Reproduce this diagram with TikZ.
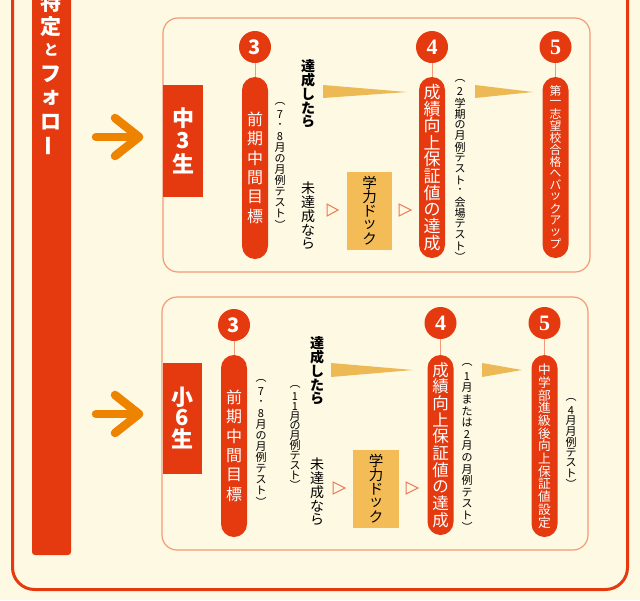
\documentclass[tikz,border=0pt]{standalone}
\usepackage{fontspec}
\usepackage{graphicx}
\newfontfamily\jp{Noto Sans CJK JP}
\newfontfamily\serifnum{Liberation Serif}
\definecolor{bg}{HTML}{FEF9E3}
\definecolor{myred}{HTML}{E5390F}
\definecolor{panelline}{HTML}{F39A78}
\definecolor{gold}{HTML}{EDB955}
\definecolor{boxfill}{HTML}{F4BC57}
\definecolor{arroworange}{HTML}{EE8300}
\definecolor{tri}{HTML}{EE7755}
\makeatletter
\newcommand\vt[2][1em]{\vbox{\offinterlineskip\@tfor\vt@c:=#2\do{\vbox to #1{\vss\hbox to 1em{\hss\vt@c\hss}\vss}}}}
\makeatother
\newcommand\lp{︵}
\newcommand\rp{︶}
\newcommand\chouon{\rotatebox[origin=c]{90}{ー}}
\newcommand\fs[1]{\fontsize{#1}{#1}\selectfont}
\tikzset{
  panel/.style={draw=panelline, line width=1.2pt, rounded corners=15pt},
  gradebox/.style={fill=myred, text=white, inner sep=0pt, minimum width=40pt, font=\jp\bfseries},
  num/.style={circle, fill=myred, text=white, inner sep=0pt, minimum size=32pt},
  pill/.style={fill=myred, text=white, inner sep=0pt, rounded corners=13pt, minimum width=26pt, font=\jp},
  paren/.style={inner sep=0pt, font=\jp, text=black},
  dock/.style={fill=boxfill, inner sep=0pt, minimum width=45pt, font=\jp},
  stem/.style={draw=panelline, line width=1pt},
  wedge/.style={fill=gold},
  opentri/.style={draw=tri, line width=1pt, fill=bg},
  bigarrow/.style={draw=arroworange, line width=8.5pt, line cap=round, line join=round},
}
\begin{document}
\begin{tikzpicture}[x=1pt,y=-1pt]
\useasboundingbox (0,0) rectangle (640,600);
\fill[bg] (0,0) rectangle (640,600);
% outer frame
\draw[myred, line width=3pt, rounded corners=22pt] (12.5,-10) -- (12.5,589.5) -- (627.5,589.5) -- (627.5,-10);
% left bar
\fill[myred, rounded corners=3pt] (32,-10) rectangle (71,555);
\begin{scope}
\clip (32,0) rectangle (71,555);
\node[inner sep=0pt, text=white, font=\jp\bfseries, anchor=north] (bartitle) at (51,-10) {\fs{21}\vt[24pt]{特定{\fs{15}と}フォロ\chouon}};
\end{scope}
% arrows
\coordinate (a1s) at (96,137); \coordinate (a1t) at (139,137);
\coordinate (a1u) at (115,118); \coordinate (a1d) at (115,156);
\draw[bigarrow] (a1s) -- (a1t); \draw[bigarrow] (a1u) -- (a1t) -- (a1d);
\coordinate (a2s) at (96,414); \coordinate (a2t) at (139,414);
\coordinate (a2u) at (115,395); \coordinate (a2d) at (115,433);
\draw[bigarrow] (a2s) -- (a2t); \draw[bigarrow] (a2u) -- (a2t) -- (a2d);
% panels
\draw[panel] (163,18) rectangle (590,272);
\draw[panel] (162,297) rectangle (588,550);
% ===== upper =====
\node[gradebox, minimum height=112pt] (g1) at (183,141) {\fs{22}\vt[23pt]{中3生}};
\node[num, font=\jp\bfseries\fs{20}] (c3a) at (255,47) {3};
\node[pill, minimum height=182pt] (p3a) at (255,168) {\fs{16}\vt[19.5pt]{前期中間目標}};
\draw[stem] (c3a) -- (p3a);
\node[paren] (t3a) at (280,164) {\fs{11}\vt[11pt]{\lp 7･8月の月例テスト\rp}};
\node[inner sep=0pt, font=\jp\bfseries] (ok1) at (308,94) {\fs{14}\vt[13.8pt]{達成したら}};
\node[inner sep=0pt, font=\jp] (ng1) at (308,216) {\fs{14}\vt[13.8pt]{未達成なら}};
\coordinate (w1a) at (323,85); \coordinate (w1b) at (323,98); \coordinate (w1t) at (407,92);
\fill[wedge] (w1a) -- (w1t) -- (w1b) -- cycle;
\coordinate (o1a) at (327,204); \coordinate (o1b) at (327,216); \coordinate (o1t) at (338,210);
\draw[opentri] (o1a) -- (o1t) -- (o1b) -- cycle;
\node[dock, minimum height=78pt] (d1) at (369.5,211) {\fs{14.5}\vt[14pt]{学力ドック}};
\coordinate (o2a) at (399,204); \coordinate (o2b) at (399,216); \coordinate (o2t) at (411,210);
\draw[opentri] (o2a) -- (o2t) -- (o2b) -- cycle;
\node[num, font=\serifnum\bfseries\fs{22}] (c4a) at (432,47) {4};
\node[pill, minimum height=181pt] (p4a) at (432,167.5) {\fs{17}\vt[16.8pt]{成績向上保証値の達成}};
\draw[stem] (c4a) -- (p4a);
\node[paren] (t4a) at (460,169) {\fs{11}\vt[11pt]{\lp 2学期の月例テスト･会場テスト\rp}};
\coordinate (w2a) at (475,85); \coordinate (w2b) at (475,98); \coordinate (w2t) at (533,92);
\fill[wedge] (w2a) -- (w2t) -- (w2b) -- cycle;
\node[num, font=\serifnum\bfseries\fs{22}] (c5a) at (555.5,47) {5};
\node[pill, minimum height=181pt] (p5a) at (555.5,167.5) {\fs{11.8}\vt[11.8pt]{第一志望校合格へバックアップ}};
\draw[stem] (c5a) -- (p5a);
% ===== lower =====
\node[gradebox, minimum height=111pt, minimum width=39pt] (g2) at (182,418) {\fs{22}\vt[21pt]{小6生}};
\node[num, font=\jp\bfseries\fs{20}] (c3b) at (234,325) {3};
\node[pill, minimum height=182pt] (p3b) at (234,446) {\fs{16}\vt[19.5pt]{前期中間目標}};
\draw[stem] (c3b) -- (p3b);
\node[paren] (t3b) at (261,441) {\fs{11}\vt[11pt]{\lp 7･8月の月例テスト\rp}};
\node[paren] (t3c) at (295,436) {\fs{11}\vt[9.8pt]{\lp 11月の月例テスト\rp}};
\node[inner sep=0pt, font=\jp\bfseries] (ok2) at (317,371) {\fs{14}\vt[13.8pt]{達成したら}};
\node[inner sep=0pt, font=\jp] (ng2) at (317,492) {\fs{14}\vt[13.8pt]{未達成なら}};
\coordinate (w3a) at (331,363); \coordinate (w3b) at (331,377); \coordinate (w3t) at (413,370);
\fill[wedge] (w3a) -- (w3t) -- (w3b) -- cycle;
\coordinate (o3a) at (333,482); \coordinate (o3b) at (333,494); \coordinate (o3t) at (345,488);
\draw[opentri] (o3a) -- (o3t) -- (o3b) -- cycle;
\node[dock, minimum height=78pt, minimum width=46pt] (d2) at (376,489) {\fs{14.5}\vt[14pt]{学力ドック}};
\coordinate (o4a) at (406,482); \coordinate (o4b) at (406,494); \coordinate (o4t) at (418,488);
\draw[opentri] (o4a) -- (o4t) -- (o4b) -- cycle;
\node[num, font=\serifnum\bfseries\fs{22}] (c4b) at (440.5,323) {4};
\node[pill, minimum height=180pt] (p4b) at (440.5,445) {\fs{16.5}\vt[16.7pt]{成績向上保証値の達成}};
\draw[stem] (c4b) -- (p4b);
\node[paren] (t4b) at (467,446) {\fs{11}\vt[11.6pt]{\lp 1月または2月の月例テスト\rp}};
\coordinate (w4a) at (482,363); \coordinate (w4b) at (482,377); \coordinate (w4t) at (522,370);
\fill[wedge] (w4a) -- (w4t) -- (w4b) -- cycle;
\node[num, font=\serifnum\bfseries\fs{22}] (c5b) at (544.5,323) {5};
\node[pill, minimum height=182pt] (p5b) at (544.5,446) {\fs{12.7}\vt[12.7pt]{中学部進級後向上保証値設定}};
\draw[stem] (c5b) -- (p5b);
\node[paren] (t5b) at (571,442) {\fs{11}\vt[10.6pt]{\lp 4月月例テスト\rp}};
\end{tikzpicture}
\end{document}
